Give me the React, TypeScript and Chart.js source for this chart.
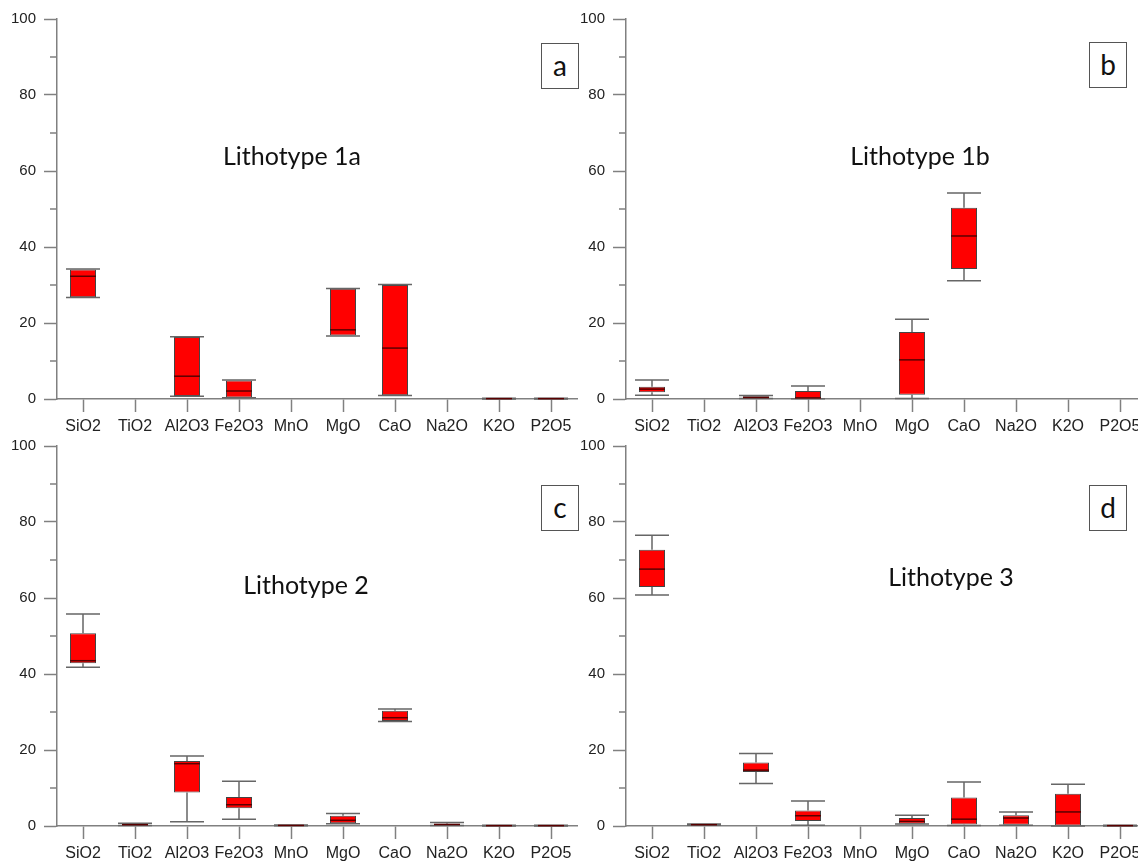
import React, { useEffect, useRef } from 'react';
import { Chart, registerables } from 'chart.js';
Chart.register(...registerables);

const categories = ['SiO2', 'TiO2', 'Al2O3', 'Fe2O3', 'MnO', 'MgO', 'CaO', 'Na2O', 'K2O', 'P2O5'];
const yMajorTicks = [0, 20, 40, 60, 80, 100];
const yMinorTicks = [10, 30, 50, 70, 90];

// Lithotype 1a
const lith1aMin = [26.7, null, 0.7, 0.3, null, 16.6, 0.9, null, 0.0, 0.0];
const lith1aQ1 = [26.8, null, 0.8, 0.4, null, 16.7, 1.0, null, 0.05, 0.05];
const lith1aMed = [32.3, null, 6.0, 2.1, null, 18.2, 13.4, null, 0.1, 0.1];
const lith1aQ3 = [34.1, null, 16.3, 4.9, null, 29.0, 30.0, null, 0.15, 0.15];
const lith1aMax = [34.2, null, 16.4, 5.0, null, 29.1, 30.1, null, 0.2, 0.2];

// Lithotype 1b
const lith1bMin = [1.0, null, 0.1, 0.05, null, 0.1, 31.1, null, null, null];
const lith1bQ1 = [1.8, null, 0.2, 0.1, null, 1.1, 34.2, null, null, null];
const lith1bMed = [2.6, null, 0.4, 0.3, null, 10.3, 42.9, null, null, null];
const lith1bQ3 = [3.2, null, 0.7, 2.1, null, 17.6, 50.3, null, null, null];
const lith1bMax = [5.0, null, 0.9, 3.4, null, 21.0, 54.2, null, null, null];

// Lithotype 2
const lith2Min = [41.8, 0.1, 1.1, 1.8, 0.05, 0.6, 27.5, 0.1, 0.0, 0.0];
const lith2Q1 = [42.8, 0.2, 8.8, 4.7, 0.1, 0.7, 27.6, 0.2, 0.05, 0.05];
const lith2Med = [43.5, 0.35, 16.4, 5.6, 0.15, 1.5, 28.5, 0.4, 0.1, 0.1];
const lith2Q3 = [50.7, 0.5, 17.1, 7.6, 0.2, 2.7, 30.3, 0.6, 0.15, 0.15];
const lith2Max = [55.8, 0.7, 18.4, 11.8, 0.25, 3.3, 30.8, 0.9, 0.2, 0.2];

// Lithotype 3
const lith3Min = [60.8, 0.2, 11.2, 0.2, null, 0.5, 0.1, 0.2, 0.0, 0.0];
const lith3Q1 = [62.9, 0.25, 14.2, 1.3, null, 0.6, 0.4, 0.3, 0.1, 0.05];
const lith3Med = [67.6, 0.35, 14.7, 2.7, null, 1.2, 1.8, 2.1, 3.7, 0.1];
const lith3Q3 = [72.7, 0.45, 16.7, 4.1, null, 2.1, 7.5, 2.8, 8.5, 0.15];
const lith3Max = [76.5, 0.55, 19.1, 6.6, null, 2.8, 11.6, 3.7, 11.0, 0.2];

const AXIS = '#808080';
const TEXT = '#222222';

const boxWhiskerPlugin = {
  id: 'boxWhisker',
  afterDatasetsDraw(chart: any, _args: any, opts: any) {
    const { ctx, scales } = chart;
    const x = scales.x;
    const y = scales.y;
    const { min, med, max, q1, q3 } = opts;
    ctx.save();
    categories.forEach((_c, i) => {
      if (min[i] == null) return;
      const cx = x.getPixelForValue(i);
      const capHalf = 17;
      const boxHalf = 13;
      const pMin = y.getPixelForValue(min[i]);
      const pMax = y.getPixelForValue(max[i]);
      const pQ1 = y.getPixelForValue(q1[i]);
      const pQ3 = y.getPixelForValue(q3[i]);
      const pMed = y.getPixelForValue(med[i]);
      ctx.strokeStyle = '#666666';
      ctx.lineWidth = 1.5;
      ctx.beginPath();
      ctx.moveTo(cx, pMax);
      ctx.lineTo(cx, pQ3);
      ctx.moveTo(cx, pQ1);
      ctx.lineTo(cx, pMin);
      ctx.moveTo(cx - capHalf, pMax);
      ctx.lineTo(cx + capHalf, pMax);
      ctx.moveTo(cx - capHalf, pMin);
      ctx.lineTo(cx + capHalf, pMin);
      ctx.stroke();
      ctx.strokeStyle = '#5a0000';
      ctx.lineWidth = 1.5;
      ctx.beginPath();
      ctx.moveTo(cx - boxHalf, pMed);
      ctx.lineTo(cx + boxHalf, pMed);
      ctx.stroke();
    });
    // minor y ticks
    ctx.strokeStyle = AXIS;
    ctx.lineWidth = 1.5;
    ctx.beginPath();
    yMinorTicks.forEach((v) => {
      const py = y.getPixelForValue(v);
      ctx.moveTo(chart.chartArea.left - 7, py);
      ctx.lineTo(chart.chartArea.left, py);
    });
    ctx.stroke();
    ctx.restore();
  },
};

function Panel(props: { left: number; top: number; min: any[]; q1: any[]; med: any[]; q3: any[]; max: any[] }) {
  const ref = useRef<HTMLCanvasElement | null>(null);
  useEffect(() => {
    if (!ref.current) return;
    const boxData = categories.map((_c, i) =>
      props.q1[i] == null ? null : [props.q1[i], props.q3[i]]
    );
    const chart = new Chart(ref.current, {
      type: 'bar',
      data: {
        labels: categories,
        datasets: [
          {
            data: boxData as any,
            backgroundColor: '#ff0000',
            borderColor: '#444444',
            borderWidth: 1,
            borderSkipped: false,
            categoryPercentage: 1,
            barPercentage: 0.5,
          },
        ],
      },
      options: {
        animation: false,
        responsive: false,
        layout: { padding: { top: 19, right: 23, left: 0, bottom: 0 } },
        plugins: {
          legend: { display: false },
          tooltip: { enabled: false },
          title: { display: false },
          boxWhisker: { min: props.min, q1: props.q1, med: props.med, q3: props.q3, max: props.max },
        } as any,
        scales: {
          x: {
            type: 'category',
            offset: true,
            grid: {
              offset: false,
              drawOnChartArea: false,
              drawTicks: true,
              tickLength: 13,
              tickColor: AXIS,
              tickWidth: 1.5,
            },
            border: { display: true, color: AXIS, width: 1.5 },
            ticks: {
              color: TEXT,
              padding: 5,
              maxRotation: 0,
              autoSkip: false,
              font: { family: 'Liberation Sans, Arial, sans-serif', size: 16 },
            },
            afterFit(scale: any) {
              scale.height = 41;
            },
          },
          y: {
            type: 'linear',
            min: 0,
            max: 100,
            afterBuildTicks(scale: any) {
              scale.ticks = yMajorTicks.map((v) => ({ value: v }));
            },
            grid: {
              drawOnChartArea: false,
              drawTicks: true,
              tickLength: 13,
              tickColor: AXIS,
              tickWidth: 1.5,
            },
            border: { display: true, color: AXIS, width: 1.5 },
            ticks: {
              color: TEXT,
              padding: 8,
              font: { family: 'Liberation Sans, Arial, sans-serif', size: 15 },
              callback: (v: any) => String(v),
            },
            afterFit(scale: any) {
              scale.width = 57;
            },
          },
        },
      },
      plugins: [boxWhiskerPlugin],
    });
    return () => chart.destroy();
  }, []);
  return (
    <canvas
      ref={ref}
      width={600}
      height={440}
      style={{ position: 'absolute', left: props.left, top: props.top, width: 600, height: 440 }}
    />
  );
}

const titleStyle = (cx: number, top: number): React.CSSProperties => ({
  position: 'absolute',
  left: cx - 150,
  top,
  width: 300,
  textAlign: 'center',
  fontFamily: 'Lato, "Open Sans", sans-serif',
  fontSize: 25,
  lineHeight: '30px',
  color: '#111',
});

const letterStyle = (left: number, top: number): React.CSSProperties => ({
  position: 'absolute',
  left,
  top,
  width: 38,
  height: 46,
  boxSizing: 'border-box',
  border: '1.5px solid #555',
  background: '#fff',
  fontFamily: 'Lato, "Open Sans", sans-serif',
  fontSize: 28,
  lineHeight: '42px',
  textAlign: 'center',
  color: '#111',
});

export default function App() {
  return (
    <div
      style={{
        position: 'fixed',
        left: 0,
        top: 0,
        width: 1138,
        height: 861,
        overflow: 'hidden',
        background: '#ffffff',
      }}
    >
      <Panel left={0} top={0} min={lith1aMin} q1={lith1aQ1} med={lith1aMed} q3={lith1aQ3} max={lith1aMax} />
      <Panel left={569} top={0} min={lith1bMin} q1={lith1bQ1} med={lith1bMed} q3={lith1bQ3} max={lith1bMax} />
      <Panel left={0} top={427} min={lith2Min} q1={lith2Q1} med={lith2Med} q3={lith2Q3} max={lith2Max} />
      <Panel left={569} top={427} min={lith3Min} q1={lith3Q1} med={lith3Med} q3={lith3Q3} max={lith3Max} />
      <div style={titleStyle(292, 140)}>Lithotype 1a</div>
      <div style={titleStyle(920, 140)}>Lithotype 1b</div>
      <div style={titleStyle(306, 569)}>Lithotype 2</div>
      <div style={titleStyle(951, 561)}>Lithotype 3</div>
      <div style={letterStyle(541, 43)}>a</div>
      <div style={letterStyle(1089, 42)}>b</div>
      <div style={letterStyle(541, 485)}>c</div>
      <div style={letterStyle(1089, 485)}>d</div>
    </div>
  );
}
